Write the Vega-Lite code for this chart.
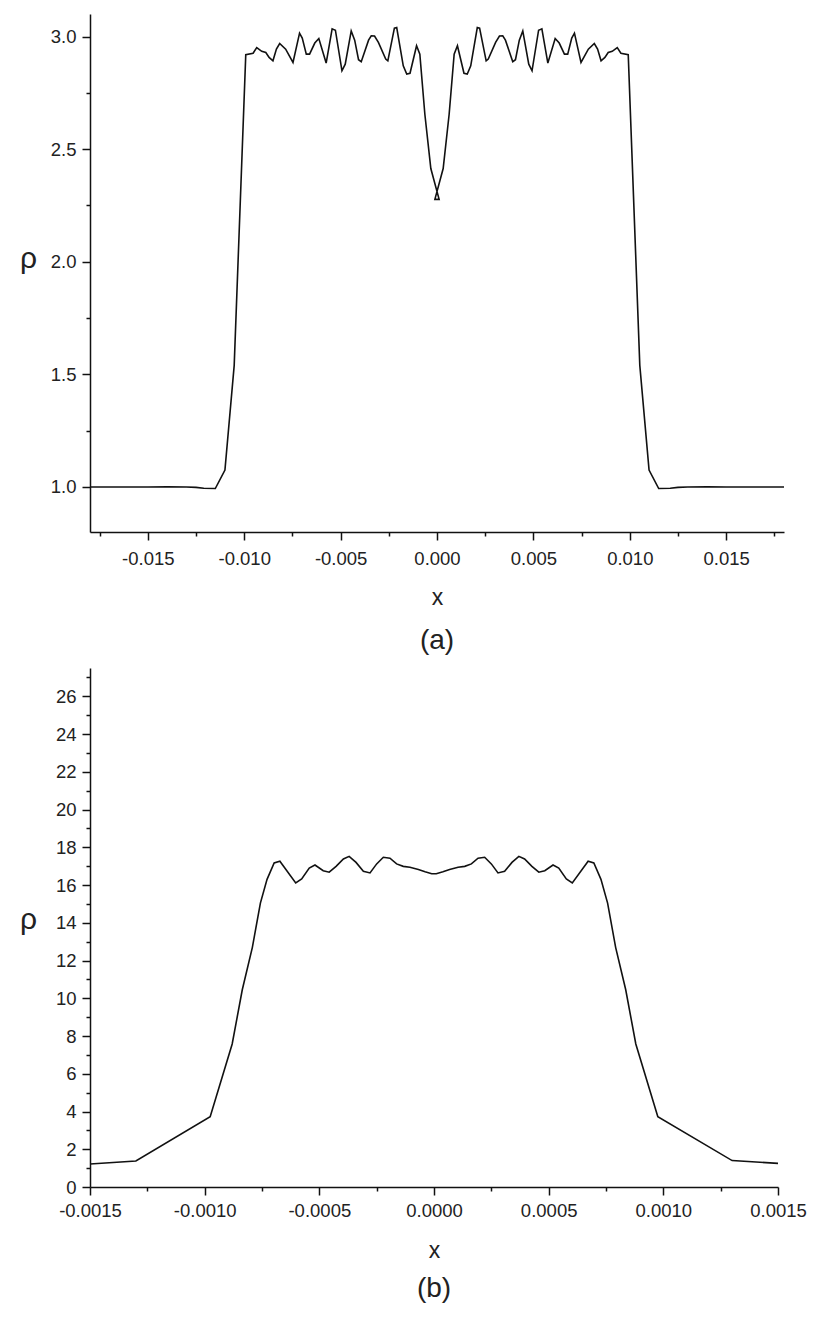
{
  "$schema": "https://vega.github.io/schema/vega-lite/v6.json",
  "padding": {"left": 19, "top": 14, "right": 5, "bottom": 5},
  "config": {
    "view": {"stroke": null},
    "font": "Liberation Sans",
    "axis": {"grid": false, "domainColor": "#111", "domainWidth": 1.5, "tickColor": "#111", "tickWidth": 1.5, "labelColor": "#222", "labelFontSize": 18.5, "labelFont": "Liberation Sans", "titleFont": "Liberation Sans", "titleFontWeight": "normal", "titleColor": "#222", "labelOverlap": false, "labelFlush": false},
    "title": {"font": "Liberation Sans", "fontSize": 28, "fontWeight": "normal", "color": "#222"}
  },
  "spacing": 13,
  "datasets": {
    "pa": [
      {"i": 1, "x": -0.018, "rho": 1.0},
      {"i": 2, "x": -0.0165, "rho": 1.0},
      {"i": 3, "x": -0.015, "rho": 1.0},
      {"i": 4, "x": -0.014, "rho": 1.001},
      {"i": 5, "x": -0.013, "rho": 1.0},
      {"i": 6, "x": -0.0125, "rho": 0.998},
      {"i": 7, "x": -0.0121, "rho": 0.994},
      {"i": 8, "x": -0.0115, "rho": 0.993},
      {"i": 9, "x": -0.011, "rho": 1.075},
      {"i": 10, "x": -0.01052, "rho": 1.54},
      {"i": 11, "x": -0.00992, "rho": 2.919},
      {"i": 12, "x": -0.00954, "rho": 2.926},
      {"i": 13, "x": -0.00935, "rho": 2.951},
      {"i": 14, "x": -0.00909, "rho": 2.934},
      {"i": 15, "x": -0.00888, "rho": 2.929},
      {"i": 16, "x": -0.00871, "rho": 2.907},
      {"i": 17, "x": -0.00851, "rho": 2.892},
      {"i": 18, "x": -0.00833, "rho": 2.944},
      {"i": 19, "x": -0.00816, "rho": 2.969},
      {"i": 20, "x": -0.00785, "rho": 2.944},
      {"i": 21, "x": -0.00747, "rho": 2.885},
      {"i": 22, "x": -0.00713, "rho": 3.015},
      {"i": 23, "x": -0.00699, "rho": 2.993},
      {"i": 24, "x": -0.00678, "rho": 2.922},
      {"i": 25, "x": -0.00661, "rho": 2.922},
      {"i": 26, "x": -0.00634, "rho": 2.971},
      {"i": 27, "x": -0.00613, "rho": 2.991},
      {"i": 28, "x": -0.00575, "rho": 2.882},
      {"i": 29, "x": -0.00544, "rho": 3.034},
      {"i": 30, "x": -0.00527, "rho": 3.028},
      {"i": 31, "x": -0.00493, "rho": 2.848},
      {"i": 32, "x": -0.00476, "rho": 2.877},
      {"i": 33, "x": -0.00445, "rho": 3.025},
      {"i": 34, "x": -0.00427, "rho": 2.984},
      {"i": 35, "x": -0.00407, "rho": 2.897},
      {"i": 36, "x": -0.00393, "rho": 2.888},
      {"i": 37, "x": -0.00355, "rho": 2.984},
      {"i": 38, "x": -0.00341, "rho": 3.003},
      {"i": 39, "x": -0.00324, "rho": 3.002},
      {"i": 40, "x": -0.00304, "rho": 2.974},
      {"i": 41, "x": -0.00266, "rho": 2.9},
      {"i": 42, "x": -0.00255, "rho": 2.892},
      {"i": 43, "x": -0.00221, "rho": 3.037},
      {"i": 44, "x": -0.00209, "rho": 3.04},
      {"i": 45, "x": -0.00175, "rho": 2.87},
      {"i": 46, "x": -0.00157, "rho": 2.833},
      {"i": 47, "x": -0.0014, "rho": 2.837},
      {"i": 48, "x": -0.00106, "rho": 2.959},
      {"i": 49, "x": -0.00089, "rho": 2.922},
      {"i": 50, "x": -0.00063, "rho": 2.655},
      {"i": 51, "x": -0.00032, "rho": 2.414},
      {"i": 52, "x": 0.00011, "rho": 2.277},
      {"i": 53, "x": -0.00011, "rho": 2.277},
      {"i": 54, "x": 0.00032, "rho": 2.414},
      {"i": 55, "x": 0.00063, "rho": 2.655},
      {"i": 56, "x": 0.00089, "rho": 2.922},
      {"i": 57, "x": 0.00106, "rho": 2.959},
      {"i": 58, "x": 0.0014, "rho": 2.837},
      {"i": 59, "x": 0.00157, "rho": 2.833},
      {"i": 60, "x": 0.00175, "rho": 2.87},
      {"i": 61, "x": 0.00209, "rho": 3.04},
      {"i": 62, "x": 0.00221, "rho": 3.037},
      {"i": 63, "x": 0.00255, "rho": 2.892},
      {"i": 64, "x": 0.00266, "rho": 2.9},
      {"i": 65, "x": 0.00304, "rho": 2.974},
      {"i": 66, "x": 0.00324, "rho": 3.002},
      {"i": 67, "x": 0.00341, "rho": 3.003},
      {"i": 68, "x": 0.00355, "rho": 2.984},
      {"i": 69, "x": 0.00393, "rho": 2.888},
      {"i": 70, "x": 0.00407, "rho": 2.897},
      {"i": 71, "x": 0.00427, "rho": 2.984},
      {"i": 72, "x": 0.00445, "rho": 3.025},
      {"i": 73, "x": 0.00476, "rho": 2.877},
      {"i": 74, "x": 0.00493, "rho": 2.848},
      {"i": 75, "x": 0.00527, "rho": 3.028},
      {"i": 76, "x": 0.00544, "rho": 3.034},
      {"i": 77, "x": 0.00575, "rho": 2.882},
      {"i": 78, "x": 0.00613, "rho": 2.991},
      {"i": 79, "x": 0.00634, "rho": 2.971},
      {"i": 80, "x": 0.00661, "rho": 2.922},
      {"i": 81, "x": 0.00678, "rho": 2.922},
      {"i": 82, "x": 0.00699, "rho": 2.993},
      {"i": 83, "x": 0.00713, "rho": 3.015},
      {"i": 84, "x": 0.00747, "rho": 2.885},
      {"i": 85, "x": 0.00785, "rho": 2.944},
      {"i": 86, "x": 0.00816, "rho": 2.969},
      {"i": 87, "x": 0.00833, "rho": 2.944},
      {"i": 88, "x": 0.00851, "rho": 2.892},
      {"i": 89, "x": 0.00871, "rho": 2.907},
      {"i": 90, "x": 0.00888, "rho": 2.929},
      {"i": 91, "x": 0.00909, "rho": 2.934},
      {"i": 92, "x": 0.00935, "rho": 2.951},
      {"i": 93, "x": 0.00954, "rho": 2.926},
      {"i": 94, "x": 0.00992, "rho": 2.919},
      {"i": 95, "x": 0.01052, "rho": 1.54},
      {"i": 96, "x": 0.011, "rho": 1.075},
      {"i": 97, "x": 0.0115, "rho": 0.993},
      {"i": 98, "x": 0.0121, "rho": 0.994},
      {"i": 99, "x": 0.0125, "rho": 0.998},
      {"i": 100, "x": 0.013, "rho": 1.0},
      {"i": 101, "x": 0.014, "rho": 1.001},
      {"i": 102, "x": 0.015, "rho": 1.0},
      {"i": 103, "x": 0.0165, "rho": 1.0},
      {"i": 104, "x": 0.018, "rho": 1.0}
    ],
    "pb": [
      {"x": -0.0015, "rho": 1.22},
      {"x": -0.0013, "rho": 1.38},
      {"x": -0.000976, "rho": 3.72},
      {"x": -0.00088, "rho": 7.58},
      {"x": -0.000836, "rho": 10.45},
      {"x": -0.000792, "rho": 12.7},
      {"x": -0.000757, "rho": 15.04},
      {"x": -0.000728, "rho": 16.3},
      {"x": -0.000697, "rho": 17.17},
      {"x": -0.000672, "rho": 17.26},
      {"x": -0.000603, "rho": 16.11},
      {"x": -0.000577, "rho": 16.32},
      {"x": -0.000544, "rho": 16.9},
      {"x": -0.000519, "rho": 17.06},
      {"x": -0.000483, "rho": 16.76},
      {"x": -0.000457, "rho": 16.68},
      {"x": -0.000427, "rho": 16.99},
      {"x": -0.000395, "rho": 17.38},
      {"x": -0.00037, "rho": 17.52},
      {"x": -0.00034, "rho": 17.2},
      {"x": -0.000308, "rho": 16.73},
      {"x": -0.000279, "rho": 16.64},
      {"x": -0.00025, "rho": 17.12},
      {"x": -0.000221, "rho": 17.47},
      {"x": -0.000192, "rho": 17.42},
      {"x": -0.000163, "rho": 17.12},
      {"x": -0.000134, "rho": 16.99},
      {"x": -0.000105, "rho": 16.94},
      {"x": -0.000068, "rho": 16.82},
      {"x": -0.000039, "rho": 16.7},
      {"x": -0.00001, "rho": 16.6},
      {"x": 0.00001, "rho": 16.6},
      {"x": 0.000039, "rho": 16.7},
      {"x": 0.000068, "rho": 16.82},
      {"x": 0.000105, "rho": 16.94},
      {"x": 0.000134, "rho": 16.99},
      {"x": 0.000163, "rho": 17.12},
      {"x": 0.000192, "rho": 17.42},
      {"x": 0.000221, "rho": 17.47},
      {"x": 0.00025, "rho": 17.12},
      {"x": 0.000279, "rho": 16.64},
      {"x": 0.000308, "rho": 16.73},
      {"x": 0.00034, "rho": 17.2},
      {"x": 0.00037, "rho": 17.52},
      {"x": 0.000395, "rho": 17.38},
      {"x": 0.000427, "rho": 16.99},
      {"x": 0.000457, "rho": 16.68},
      {"x": 0.000483, "rho": 16.76},
      {"x": 0.000519, "rho": 17.06},
      {"x": 0.000544, "rho": 16.9},
      {"x": 0.000577, "rho": 16.32},
      {"x": 0.000603, "rho": 16.11},
      {"x": 0.000672, "rho": 17.26},
      {"x": 0.000697, "rho": 17.17},
      {"x": 0.000728, "rho": 16.3},
      {"x": 0.000757, "rho": 15.04},
      {"x": 0.000792, "rho": 12.7},
      {"x": 0.000836, "rho": 10.45},
      {"x": 0.00088, "rho": 7.58},
      {"x": 0.000976, "rho": 3.72},
      {"x": 0.0013, "rho": 1.4},
      {"x": 0.0015, "rho": 1.25}
    ]
  },
  "vconcat": [
    {
      "width": 694,
      "height": 518,
      "title": {"text": "(a)", "orient": "bottom", "offset": 17},
      "data": {"name": "pa"},
      "mark": {"type": "line", "color": "#111", "strokeWidth": 1.6, "clip": true},
      "encoding": {
        "x": {
          "field": "x", "type": "quantitative",
          "scale": {"domain": [-0.018, 0.018], "nice": false, "zero": false},
          "axis": {
            "title": "x", "titleFontSize": 23, "titlePadding": 19, "labelPadding": 9,
            "values": [-0.0175, -0.015, -0.0125, -0.01, -0.0075, -0.005, -0.0025, 0, 0.0025, 0.005, 0.0075, 0.01, 0.0125, 0.015, 0.0175],
            "labelExpr": "abs(round(datum.value*400))%2==0 ? (datum.value < -1e-9 ? '-' : '') + format(abs(datum.value), '.3f') : ''",
            "tickSize": {"condition": {"test": "abs(round(datum.value*400))%2==0", "value": 8}, "value": 4}
          }
        },
        "y": {
          "field": "rho", "type": "quantitative",
          "scale": {"domain": [0.8, 3.1], "nice": false, "zero": false},
          "axis": {
            "title": "ρ", "titleFontSize": 30, "titleAngle": 0, "titleAlign": "center", "titleBaseline": "alphabetic", "titleX": -62, "titleY": 253,
            "labelPadding": 6,
            "values": [1, 1.25, 1.5, 1.75, 2, 2.25, 2.5, 2.75, 3],
            "labelExpr": "round(datum.value*4)%2==0 ? format(datum.value, '.1f') : ''",
            "tickSize": {"condition": {"test": "round(datum.value*4)%2==0", "value": 8}, "value": 4}
          }
        },
        "order": {"field": "i", "type": "quantitative"}
      }
    },
    {
      "width": 688,
      "height": 519,
      "title": {"text": "(b)", "orient": "bottom", "offset": 12},
      "data": {"name": "pb"},
      "mark": {"type": "line", "color": "#111", "strokeWidth": 1.6, "clip": true},
      "encoding": {
        "x": {
          "field": "x", "type": "quantitative",
          "scale": {"domain": [-0.0015, 0.0015], "nice": false, "zero": false},
          "axis": {
            "title": "x", "titleFontSize": 23, "titlePadding": 20, "labelPadding": 6,
            "values": [-0.0015, -0.00125, -0.001, -0.00075, -0.0005, -0.00025, 0, 0.00025, 0.0005, 0.00075, 0.001, 0.00125, 0.0015],
            "labelExpr": "abs(round(datum.value*4000))%2==0 ? (datum.value < -1e-9 ? '-' : '') + format(abs(datum.value), '.4f') : ''",
            "tickSize": {"condition": {"test": "abs(round(datum.value*4000))%2==0", "value": 8}, "value": 4}
          }
        },
        "y": {
          "field": "rho", "type": "quantitative",
          "scale": {"domain": [0, 27.5], "nice": false, "zero": false},
          "axis": {
            "title": "ρ", "titleFontSize": 30, "titleAngle": 0, "titleAlign": "center", "titleBaseline": "alphabetic", "titleX": -62, "titleY": 260,
            "labelPadding": 6,
            "values": [0, 1, 2, 3, 4, 5, 6, 7, 8, 9, 10, 11, 12, 13, 14, 15, 16, 17, 18, 19, 20, 21, 22, 23, 24, 25, 26, 27],
            "labelExpr": "datum.value%2==0 ? format(datum.value, 'd') : ''",
            "tickSize": {"condition": {"test": "datum.value%2==0", "value": 8}, "value": 4}
          }
        }
      }
    }
  ]
}
